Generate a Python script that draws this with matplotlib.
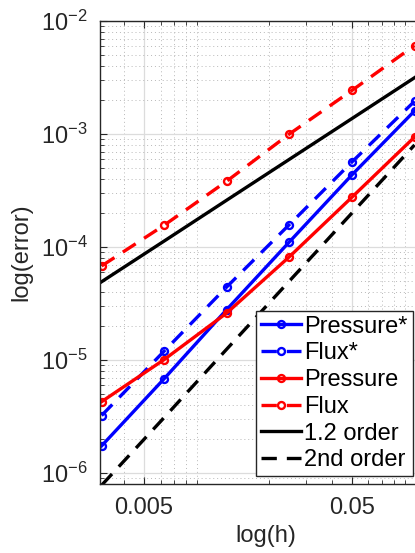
import matplotlib
matplotlib.use("Agg")
import matplotlib.pyplot as plt
from matplotlib.ticker import FixedLocator, LogLocator, NullFormatter, FixedFormatter

plt.rcParams['font.family'] = ['Liberation Sans', 'DejaVu Sans']
plt.rcParams['mathtext.fontset'] = 'custom'
plt.rcParams['mathtext.rm'] = 'Liberation Sans'
plt.rcParams['mathtext.it'] = 'Liberation Sans:italic'

# Data
h = [0.003125, 0.00625, 0.0125, 0.025, 0.05, 0.1]
pressure_star = [1.74e-6, 6.84e-6, 2.8e-5, 1.11e-4, 4.35e-4, 1.6e-3]
flux_star = [3.23e-6, 1.2e-5, 4.44e-5, 1.58e-4, 5.66e-4, 1.95e-3]
pressure = [4.28e-6, 1.01e-5, 2.61e-5, 8.2e-5, 2.76e-4, 9.4e-4]
flux = [6.8e-5, 1.56e-4, 3.83e-4, 1.0e-3, 2.43e-3, 6.07e-3]
order_12 = [4.93e-5, 1.13e-4, 2.6e-4, 5.97e-4, 1.37e-3, 3.15e-3]
order_2 = [7.8e-7, 3.1e-6, 1.25e-5, 5.0e-5, 2.0e-4, 8.0e-4]

xticks = [0.005, 0.05]
xtick_labels = ['0.005', '0.05']
yticks = [1e-6, 1e-5, 1e-4, 1e-3, 1e-2]
ytick_labels = [r'$\mathregular{10^{-6}}$', r'$\mathregular{10^{-5}}$', r'$\mathregular{10^{-4}}$',
                r'$\mathregular{10^{-3}}$', r'$\mathregular{10^{-2}}$']

W, H = 415, 553
fig = plt.figure(figsize=(W / 100, H / 100), dpi=100)
ax_l, ax_r, ax_t, ax_b = 100, 431, 21, 484
ax = fig.add_axes([ax_l / W, 1 - ax_b / H, (ax_r - ax_l) / W, (ax_b - ax_t) / H])

lw = 2.4
dash = (4.6, 3.0)
mk = dict(marker='o', markersize=5, markeredgewidth=1.7, markerfacecolor='none')

ax.plot(h, pressure_star, color='#0000ff', lw=lw, label='Pressure*', **mk)
ax.plot(h, flux_star, color='#0000ff', lw=lw, dashes=dash, label='Flux*', **mk)
ax.plot(h, pressure, color='#ff0000', lw=lw, label='Pressure', **mk)
ax.plot(h, flux, color='#ff0000', lw=lw, dashes=dash, label='Flux', **mk)
ax.plot(h, order_12, color='black', lw=lw, label='1.2 order')
ax.plot(h, order_2, color='black', lw=lw, dashes=dash, label='2nd order')

ax.set_xscale('log')
ax.set_yscale('log')
ax.set_xlim(0.00307, 0.12)
ax.set_ylim(8.0e-7, 1.0e-2)

ax.xaxis.set_major_locator(FixedLocator(xticks))
ax.xaxis.set_major_formatter(FixedFormatter(xtick_labels))
ax.xaxis.set_minor_locator(LogLocator(base=10, subs=[2, 3, 4, 5, 6, 7, 8, 9], numticks=20))
ax.xaxis.set_minor_formatter(NullFormatter())
ax.yaxis.set_major_locator(FixedLocator(yticks))
ax.yaxis.set_major_formatter(FixedFormatter(ytick_labels))
ax.yaxis.set_minor_locator(LogLocator(base=10, subs=[2, 3, 4, 5, 6, 7, 8, 9], numticks=20))
ax.yaxis.set_minor_formatter(NullFormatter())

ax.grid(True, which='major', color='#dcdcdc', lw=0.9, ls='-')
ax.grid(True, which='minor', color='#b8b8b8', lw=0.7, ls=(0, (1, 3)))
ax.set_axisbelow(True)

for s in ax.spines.values():
    s.set_color('#262626')
    s.set_linewidth(1.0)
ax.tick_params(which='both', direction='in', top=True, right=True, colors='#262626',
               labelsize=17, labelcolor='#262626')
ax.tick_params(which='major', length=5, pad=9)
ax.tick_params(which='minor', length=3)

ax.set_xlabel('log(h)', fontsize=17, color='#262626', labelpad=5)
ax.set_ylabel('log(error)', fontsize=17, color='#262626', labelpad=6)

leg = ax.legend(loc='upper left', bbox_to_anchor=(256 / W, 1 - 311 / H), bbox_transform=fig.transFigure,
                borderaxespad=0, fontsize=17, handlelength=1.7, handletextpad=0.15,
                labelspacing=0.2, borderpad=0.2, fancybox=False, framealpha=1,
                edgecolor='#262626')
leg.get_frame().set_linewidth(1.0)

fig.savefig('out.png', dpi=100)
